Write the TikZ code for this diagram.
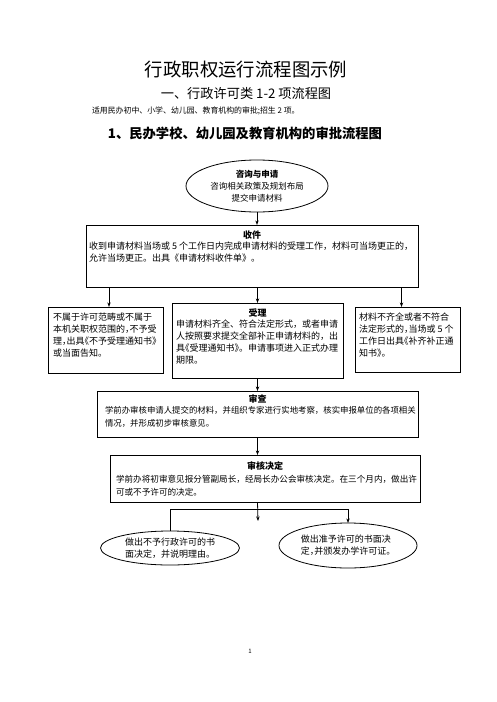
\documentclass[tikz,border=0pt]{standalone}
\usepackage{fontspec}
\setmainfont{Noto Sans CJK SC}
\usetikzlibrary{arrows.meta,shapes.geometric}
% half-width punctuation
\newcommand\halfl[1]{\makebox[.5em][l]{#1}}
\newcommand\halfr[1]{\makebox[.5em][r]{#1}}

\begin{document}
\begin{tikzpicture}[x=1pt,y=-1pt,
  every node/.style={inner sep=0pt,outer sep=0pt},
  frame/.style={draw,line width=0.9pt,anchor=north west},
  head/.style={font=\bfseries\fontsize{9}{12}\selectfont},
  body/.style={font=\fontsize{9}{12}\selectfont,align=left,anchor=north west},
  oval/.style={draw,ellipse,line width=0.8pt,font=\fontsize{9}{12}\selectfont},
  arr/.style={-{Stealth[length=4.6pt,width=3.4pt]},line width=0.8pt},
  link/.style={line width=0.8pt}
  ]
\fill[white] (0,0) rectangle (496,702);
\useasboundingbox (0,0) rectangle (496,702);

% titles
\node[font=\fontsize{18.4}{20}\selectfont] (title) at (246,70) {行政职权运行流程图示例};
\node[font=\fontsize{13.2}{15}\selectfont] (subtitle) at (246,93) {一、行政许可类 1-2 项流程图};
\node[font=\fontsize{7.9}{10}\selectfont,anchor=west] (scope) at (92,111) {适用民办初中、小学、幼儿园、教育机构的审批;招生 2 项。};
\node[font=\bfseries\fontsize{13.3}{15}\selectfont] (heading) at (245,133) {1、民办学校、幼儿园及教育机构的审批流程图};

% steps
\node[oval,minimum width=142,minimum height=52,align=center,font=\fontsize{8.5}{12}\selectfont] (zixun) at (257,186)
  {\textbf{咨询与申请}\\咨询相关政策及规划布局\\提交申请材料};

\node[frame,minimum width=332,minimum height=62] (shoujian) at (86,225) {};
\node[head] (shoujianhd) at (252,235) {收件};
\node[body] (shoujiantxt) at (89,242)
  {收到申请材料当场或 5 个工作日内完成申请材料的受理工作，材料可当场更正的，\\
   允许当场更正。出具《申请材料收件单》。};

\node[frame,minimum width=115,minimum height=66] (buxu) at (48,307) {};
\node[body] (buxutxt) at (53,313)
  {不属于许可范畴或不属于\\本机关职权范围的\halfl{，}不予受\\理\halfl{，}出具\halfr{《}不予受理通知书\halfl{》}\\或当面告知。};

\node[frame,minimum width=171,minimum height=75] (shouli) at (172,303) {};
\node[head] (shoulihd) at (257.5,313) {受理};
\node[body] (shoulitxt) at (176,320)
  {申请材料齐全、符合法定形式，或者申请\\人按照要求提交全部补正申请材料的，出\\具\halfr{《}受理通知书\halfl{》}。申请事项进入正式办理\\期限。};

\node[frame,minimum width=105,minimum height=65] (bujiao) at (355,307) {};
\node[body] (bujiaotxt) at (359,313)
  {材料不齐全或者不符合\\法定形式的\halfl{，}当场或 5 个\\工作日出具\halfr{《}补齐补正通\\知书\halfl{》}。};

\node[frame,minimum width=321,minimum height=46] (shencha) at (97,391) {};
\node[head] (shenchahd) at (257.5,399) {审查};
\node[body,font=\fontsize{8.4}{13}\selectfont] (shenchatxt) at (105,406)
  {学前办审核申请人提交的材料，并组织专家进行实地考察，核实申报单位的各项相关\\情况，并形成初步审核意见。};

\node[frame,minimum width=310,minimum height=47] (juedong) at (110,455) {};
\node[head] (juedonghd) at (265,466) {审核决定};
\node[body,font=\fontsize{8.6}{13}\selectfont] (juedongtxt) at (116,475)
  {学前办将初审意见报分管副局长，经局长办公会审核决定。在三个月内，做出许\\可或不予许可的决定。};

\node[oval,minimum width=139,minimum height=34,align=left] (buyu) at (170,548)
  {做出不予行政许可的书\\面决定，并说明理由。};
\node[oval,minimum width=138,minimum height=45,align=left] (zhunyu) at (348,545.5)
  {做出准予许可的书面决\\定\halfl{，}并颁发办学许可证。};

\node[font=\fontsize{6}{7}\selectfont] (pageno) at (250,651) {1};

% connectors
\coordinate (buxuin) at ([xshift=3.5pt]buxu.north);
\coordinate (bujiaoin) at ([xshift=-6pt]bujiao.north);
\coordinate (fork) at (258,509);
\coordinate (forkend) at (258,521);
\draw[arr] (zixun.south) -- (zixun.south |- shoujian.north);
\draw[arr] (buxuin |- shoujian.south) -- (buxuin);
\draw[arr] (shouli.north |- shoujian.south) -- (shouli.north);
\draw[arr] (bujiaoin |- shoujian.south) -- (bujiaoin);
\draw[arr] (shouli.south) -- (shencha.north);
\draw[arr] (shencha.south) -- (shencha.south |- juedong.north);
\draw[arr] (shencha.south |- juedong.south) -- (forkend);
\draw[arr] (buyu.north) |- (zhunyu.north |- fork) -- (zhunyu.north);
\end{tikzpicture}
\end{document}
